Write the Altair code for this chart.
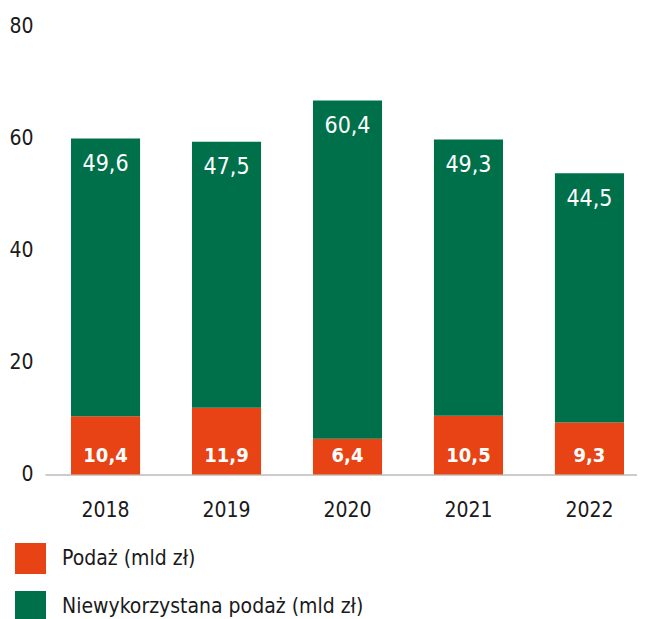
import altair as alt
import pandas as pd

years = ["2018", "2019", "2020", "2021", "2022"]
podaz = [10.4, 11.9, 6.4, 10.5, 9.3]
niewyk = [49.6, 47.5, 60.4, 49.3, 44.5]
series = ["Podaż (mld zł)", "Niewykorzystana podaż (mld zł)"]
y_ticks = [0, 20, 40, 60, 80]

ORANGE = "#E84314"
GREEN = "#00704A"
FONT = "DejaVu Sans Condensed"
FS = 21

def fmt(v):
    return f"{v:.1f}".replace(".", ",")

rows = []
for i, yr in enumerate(years):
    rows.append({"year": yr, "series": series[0], "value": podaz[i], "ord": 0})
    rows.append({"year": yr, "series": series[1], "value": niewyk[i], "ord": 1})
df = pd.DataFrame(rows)

lab_o = pd.DataFrame({"year": years, "y": [0] * len(years), "label": [fmt(v) for v in podaz]})
lab_g = pd.DataFrame({"year": years, "y": [a + b for a, b in zip(podaz, niewyk)],
                      "label": [fmt(v) for v in niewyk]})

xscale = alt.Scale(domain=years, range=[0, 605], paddingInner=0.429, paddingOuter=0.215)
yscale = alt.Scale(domain=[0, 80], nice=False)

bars = alt.Chart(df).mark_bar().encode(
    x=alt.X("year:N", scale=xscale, sort=years,
            axis=alt.Axis(title=None, labelAngle=0, ticks=False, domain=True,
                          domainColor="#cccccc", domainWidth=2, labelPadding=25,
                          labelFont=FONT, labelFontSize=FS, labelColor="#1a1a1a")),
    y=alt.Y("value:Q", scale=yscale, stack="zero",
            axis=alt.Axis(title=None, values=y_ticks, grid=False, ticks=False, domain=False,
                          labelPadding=12, labelFont=FONT, labelFontSize=FS,
                          labelColor="#1a1a1a")),
    color=alt.Color("series:N", scale=alt.Scale(domain=series, range=[ORANGE, GREEN]),
                    legend=alt.Legend(title=None, orient="none", legendX=-30, legendY=516.5,
                                      direction="vertical", symbolType="square",
                                      symbolSize=961, symbolStrokeWidth=0, labelFont=FONT,
                                      labelFontSize=FS, labelColor="#1a1a1a", labelOffset=16,
                                      labelLimit=0, rowPadding=17, padding=0)),
    order=alt.Order("ord:Q"),
)

txt_o = alt.Chart(lab_o).mark_text(font=FONT, fontSize=20, fontWeight="bold", color="white",
                                   baseline="middle", dy=-18.5).encode(
    x=alt.X("year:N", scale=xscale, sort=years),
    y=alt.Y("y:Q", scale=yscale),
    text="label:N",
)
txt_g = alt.Chart(lab_g).mark_text(font=FONT, fontSize=23, color="white",
                                   baseline="middle", dy=25.5).encode(
    x=alt.X("year:N", scale=xscale, sort=years),
    y=alt.Y("y:Q", scale=yscale),
    text="label:N",
)

chart = alt.layer(bars, txt_o, txt_g).properties(
    width=592, height=448,
    autosize=alt.AutoSizeParams(type="none"),
    padding={"left": 37, "top": 18.5, "right": 0, "bottom": 144},
).configure_view(stroke=None)

chart.save("out.html", embed_options={"renderer": "svg", "actions": False})
